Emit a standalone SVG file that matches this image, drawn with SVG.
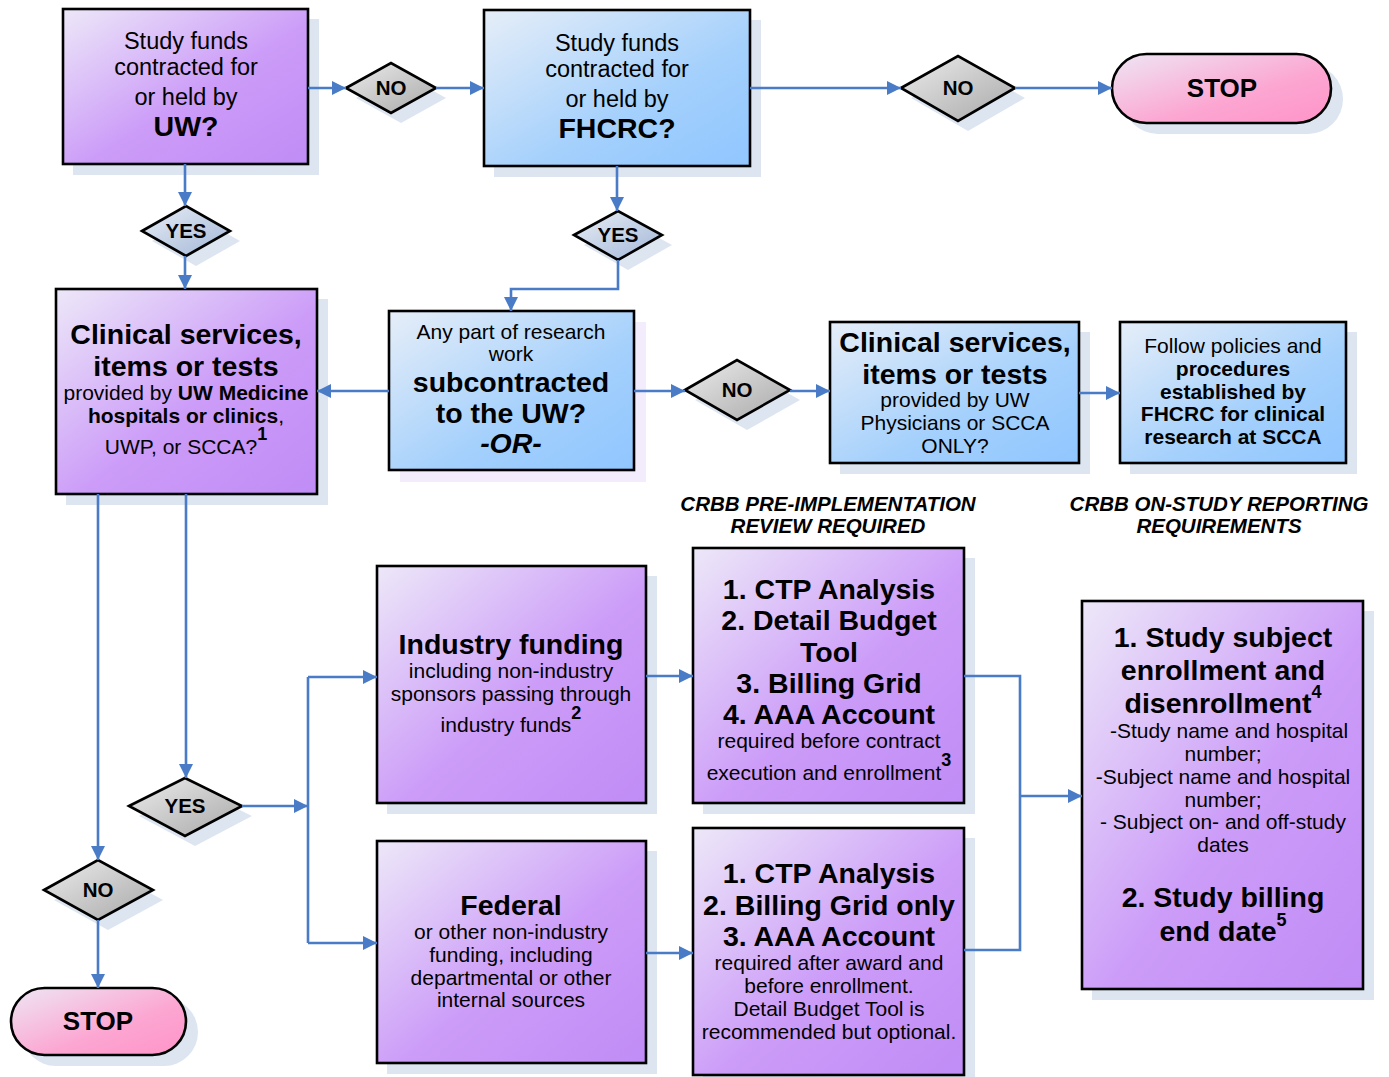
<svg xmlns="http://www.w3.org/2000/svg" width="1389" height="1077" viewBox="0 0 1389 1077">
<defs>
<linearGradient id="gPurple" x1="0" y1="0" x2="1" y2="1">
<stop offset="0" stop-color="#ede8f8"/><stop offset="0.55" stop-color="#cc9cf8"/><stop offset="1" stop-color="#c08cf6"/>
</linearGradient>
<linearGradient id="gBlue" x1="0" y1="0" x2="1" y2="1">
<stop offset="0" stop-color="#e6eef8"/><stop offset="0.6" stop-color="#a4d0fc"/><stop offset="1" stop-color="#90c6ff"/>
</linearGradient>
<linearGradient id="gPink" x1="0" y1="0" x2="1" y2="1">
<stop offset="0" stop-color="#eee6f4"/><stop offset="0.6" stop-color="#fca6d2"/><stop offset="1" stop-color="#ff94c8"/>
</linearGradient>
<linearGradient id="gGrey" x1="0" y1="0" x2="1" y2="1">
<stop offset="0" stop-color="#ececec"/><stop offset="1" stop-color="#a8a8a8"/>
</linearGradient>
<linearGradient id="gBlueGrey" x1="0" y1="0" x2="1" y2="1">
<stop offset="0" stop-color="#e8eef6"/><stop offset="1" stop-color="#a2b6d6"/>
</linearGradient>
<marker id="arr" markerUnits="userSpaceOnUse" markerWidth="15" markerHeight="14" refX="14" refY="7" orient="auto">
<path d="M0,0 L14,7 L0,14 z" fill="#4a7bc6"/>
</marker>
</defs>
<style>
text{font-family:"Liberation Sans",Arial,sans-serif;fill:#000;text-anchor:middle}
.box{stroke:#000;stroke-width:2.6}
.sh{fill:#dde5f1}
.shp{fill:#f3ecfd}
.p{fill:url(#gPurple)}
.b{fill:url(#gBlue)}
.k{fill:url(#gPink)}
.g{fill:url(#gGrey)}
.bg{fill:url(#gBlueGrey)}
.r23{font-size:23.5px}
.r21{font-size:21px}
.b28{font-size:28.5px;font-weight:bold}
.b21{font-size:21px;font-weight:bold}
.d{font-size:20.5px;font-weight:bold}
.st{font-size:26px;font-weight:bold}
.lab{font-size:20.5px;font-weight:bold;font-style:italic}
.sup{font-size:18px;font-weight:bold}
.c{fill:none;stroke:#4a7bc6;stroke-width:2.6}
</style>

<g id="box-uw">
<rect class="sh" x="73" y="19" width="246" height="156"/>
<rect class="box p" x="63" y="9" width="245" height="155"/>
<text class="r23" x="186" y="49">Study funds</text>
<text class="r23" x="186" y="75">contracted for</text>
<text class="r23" x="186" y="105">or held by</text>
<text class="b28" x="186" y="136">UW?</text>
</g>

<g id="box-fhcrc">
<rect class="sh" x="494" y="20" width="267" height="157"/>
<rect class="box b" x="484" y="10" width="266" height="156"/>
<text class="r23" x="617" y="51">Study funds</text>
<text class="r23" x="617" y="77">contracted for</text>
<text class="r23" x="617" y="107">or held by</text>
<text class="b28" x="617" y="138">FHCRC?</text>
</g>

<g id="d-no1">
<polygon class="sh" points="356,98 401,73 446,98 401,123"/>
<polygon class="box g" points="346,88 391,63 436,88 391,113"/>
<text class="d" x="391" y="95">NO</text>
</g>

<g id="d-yes1">
<polygon class="sh" points="152,241 196,216 240,241 196,266"/>
<polygon class="box bg" points="142,231 186,206 230,231 186,256"/>
<text class="d" x="186" y="238">YES</text>
</g>

<g id="d-yes2">
<polygon class="sh" points="584,245 628,221 672,245 628,270"/>
<polygon class="box bg" points="574,235 618,211 662,235 618,260"/>
<text class="d" x="618" y="242">YES</text>
</g>

<g id="d-no2">
<polygon class="sh" points="911,98 968,66 1025,98 968,131"/>
<polygon class="box g" points="901,88 958,56 1015,88 958,121"/>
<text class="d" x="958" y="95">NO</text>
</g>

<g id="stop1">
<rect class="sh" x="1123" y="64" width="220" height="70" rx="35"/>
<rect class="box k" x="1112" y="54" width="219" height="69" rx="34.5"/>
<text class="st" x="1222" y="97">STOP</text>
</g>

<g id="box-clinical-uw">
<rect class="sh" x="66" y="299" width="262" height="206"/>
<rect class="box p" x="56" y="289" width="261" height="205"/>
<text class="b28" x="186" y="344">Clinical services,</text>
<text class="b28" x="186" y="376">items or tests</text>
<text class="r21" x="186" y="400">provided by <tspan font-weight="bold">UW Medicine</tspan></text>
<text class="r21" x="186" y="423"><tspan font-weight="bold">hospitals or clinics</tspan>,</text>
<text class="r21" x="186" y="454">UWP, or SCCA?<tspan class="sup" dy="-14">1</tspan></text>
</g>

<g id="box-subcontract">
<rect class="shp" x="400" y="322" width="246" height="160"/>
<rect class="box b" x="389" y="311" width="245" height="159"/>
<text class="r21" x="511" y="339">Any part of research</text>
<text class="r21" x="511" y="361">work</text>
<text class="b28" x="511" y="392">subcontracted</text>
<text class="b28" x="511" y="423">to the UW?</text>
<text class="b28" x="511" y="453" font-style="italic">-OR-</text>
</g>

<g id="d-no3">
<polygon class="sh" points="695,400 747,370 800,400 747,430"/>
<polygon class="box g" points="685,390 737,360 790,390 737,420"/>
<text class="d" x="737" y="397">NO</text>
</g>

<g id="box-clinical-uwp">
<rect class="sh" x="840" y="332" width="250" height="142"/>
<rect class="box b" x="830" y="322" width="249" height="141"/>
<text class="b28" x="955" y="352">Clinical services,</text>
<text class="b28" x="955" y="384">items or tests</text>
<text class="r21" x="955" y="407">provided by UW</text>
<text class="r21" x="955" y="430">Physicians or SCCA</text>
<text class="r21" x="955" y="453">ONLY?</text>
</g>

<g id="box-follow">
<rect class="sh" x="1130" y="332" width="227" height="142"/>
<rect class="box b" x="1120" y="322" width="226" height="141"/>
<text class="r21" x="1233" y="353">Follow policies and</text>
<text class="b21" x="1233" y="376">procedures</text>
<text class="b21" x="1233" y="399">established by</text>
<text class="b21" x="1233" y="421">FHCRC for clinical</text>
<text class="b21" x="1233" y="444">research at SCCA</text>
</g>

<g id="label-pre">
<text class="lab" x="828" y="511">CRBB PRE-IMPLEMENTATION</text>
<text class="lab" x="828" y="533">REVIEW REQUIRED</text>
</g>
<g id="label-on">
<text class="lab" x="1219" y="511">CRBB ON-STUDY REPORTING</text>
<text class="lab" x="1219" y="533">REQUIREMENTS</text>
</g>

<g id="box-industry">
<rect class="sh" x="387" y="576" width="270" height="238"/>
<rect class="box p" x="377" y="566" width="269" height="237"/>
<text class="b28" x="511" y="654">Industry funding</text>
<text class="r21" x="511" y="678">including non-industry</text>
<text class="r21" x="511" y="701">sponsors passing through</text>
<text class="r21" x="511" y="732">industry funds<tspan class="sup" dy="-13">2</tspan></text>
</g>

<g id="box-req-industry">
<rect class="sh" x="703" y="558" width="272" height="256"/>
<rect class="box p" x="693" y="548" width="271" height="255"/>
<text class="b28" x="829" y="599">1. CTP Analysis</text>
<text class="b28" x="829" y="630">2. Detail Budget</text>
<text class="b28" x="829" y="662">Tool</text>
<text class="b28" x="829" y="693">3. Billing Grid</text>
<text class="b28" x="829" y="724">4. AAA Account</text>
<text class="r21" x="829" y="748">required before contract</text>
<text class="r21" x="829" y="780">execution and enrollment<tspan class="sup" dy="-14">3</tspan></text>
</g>

<g id="box-federal">
<rect class="sh" x="387" y="851" width="270" height="223"/>
<rect class="box p" x="377" y="841" width="269" height="222"/>
<text class="b28" x="511" y="915">Federal</text>
<text class="r21" x="511" y="939">or other non-industry</text>
<text class="r21" x="511" y="962">funding, including</text>
<text class="r21" x="511" y="985">departmental or other</text>
<text class="r21" x="511" y="1007">internal sources</text>
</g>

<g id="box-req-federal">
<rect class="sh" x="703" y="838" width="272" height="239"/>
<rect class="box p" x="693" y="828" width="271" height="247"/>
<text class="b28" x="829" y="883">1. CTP Analysis</text>
<text class="b28" x="829" y="915">2. Billing Grid only</text>
<text class="b28" x="829" y="946">3. AAA Account</text>
<text class="r21" x="829" y="970">required after award and</text>
<text class="r21" x="829" y="993">before enrollment.</text>
<text class="r21" x="829" y="1016">Detail Budget Tool is</text>
<text class="r21" x="829" y="1039">recommended but optional.</text>
</g>

<g id="box-reporting">
<rect class="sh" x="1092" y="611" width="282" height="389"/>
<rect class="box p" x="1082" y="601" width="281" height="388"/>
<text class="b28" x="1223" y="647">1. Study subject</text>
<text class="b28" x="1223" y="680">enrollment and</text>
<text class="b28" x="1223" y="713">disenrollment<tspan class="sup" dy="-15">4</tspan></text>
<text class="r21" x="1229" y="738">-Study name and hospital</text>
<text class="r21" x="1223" y="761">number;</text>
<text class="r21" x="1223" y="784">-Subject name and hospital</text>
<text class="r21" x="1223" y="807">number;</text>
<text class="r21" x="1223" y="829">- Subject on- and off-study</text>
<text class="r21" x="1223" y="852">dates</text>
<text class="b28" x="1223" y="907">2. Study billing</text>
<text class="b28" x="1223" y="941">end date<tspan class="sup" dy="-15">5</tspan></text>
</g>

<g id="d-yes3">
<polygon class="sh" points="139,816 195,788 252,816 195,846"/>
<polygon class="box g" points="129,806 185,778 242,806 185,836"/>
<text class="d" x="185" y="813">YES</text>
</g>

<g id="d-no4">
<polygon class="sh" points="54,900 108,870 163,900 108,930"/>
<polygon class="box g" points="44,890 98,860 153,890 98,920"/>
<text class="d" x="98" y="897">NO</text>
</g>

<g id="stop2">
<rect class="sh" x="22" y="998" width="176" height="68" rx="34"/>
<rect class="box k" x="11" y="988" width="175" height="67" rx="33.5"/>
<text class="st" x="98" y="1030">STOP</text>
</g>

<g id="connectors">
<path class="c" d="M308,88 H346" marker-end="url(#arr)"/>
<path class="c" d="M436,88 H484" marker-end="url(#arr)"/>
<path class="c" d="M185,164 V206" marker-end="url(#arr)"/>
<path class="c" d="M185,256 V289" marker-end="url(#arr)"/>
<path class="c" d="M617,166 V211" marker-end="url(#arr)"/>
<path class="c" d="M618,260 V289 H511 V311" marker-end="url(#arr)"/>
<path class="c" d="M750,88 H901" marker-end="url(#arr)"/>
<path class="c" d="M1015,88 H1112" marker-end="url(#arr)"/>
<path class="c" d="M389,391 H317" marker-end="url(#arr)"/>
<path class="c" d="M634,391 H685" marker-end="url(#arr)"/>
<path class="c" d="M790,391 H830" marker-end="url(#arr)"/>
<path class="c" d="M1079,393 H1120" marker-end="url(#arr)"/>
<path class="c" d="M98,494 V860" marker-end="url(#arr)"/>
<path class="c" d="M186,494 V778" marker-end="url(#arr)"/>
<path class="c" d="M242,806 H308" marker-end="url(#arr)"/>
<path class="c" d="M308,677 V943"/>
<path class="c" d="M308,677 H377" marker-end="url(#arr)"/>
<path class="c" d="M308,943 H377" marker-end="url(#arr)"/>
<path class="c" d="M98,920 V988" marker-end="url(#arr)"/>
<path class="c" d="M646,676 H693" marker-end="url(#arr)"/>
<path class="c" d="M646,953 H693" marker-end="url(#arr)"/>
<path class="c" d="M964,676 H1020 V950 H964"/>
<path class="c" d="M1020,796 H1082" marker-end="url(#arr)"/>
</g>
</svg>
